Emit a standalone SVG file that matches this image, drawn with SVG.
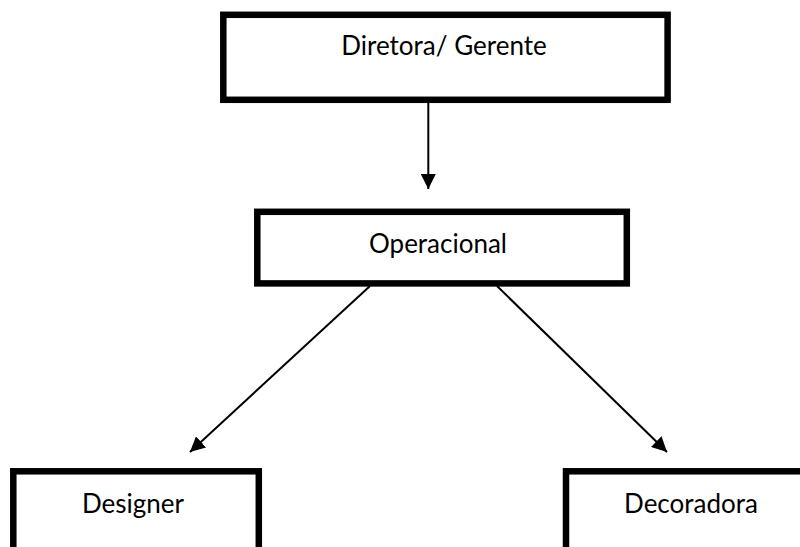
<svg xmlns="http://www.w3.org/2000/svg" width="800" height="547" viewBox="0 0 800 547">
<defs>
<style>
.box{fill:#fff;stroke:#000;stroke-width:6.5}
.lbl{font-family:Lato,"Open Sans",sans-serif;font-size:26px;fill:#000;text-anchor:middle}
.conn{stroke:#000;stroke-width:2;fill:none}
</style>
<marker id="ah" viewBox="0 0 10 10" refX="10" refY="5" markerWidth="7.5" markerHeight="7.5" markerUnits="strokeWidth" orient="auto">
<path d="M0,0 L10,5 L0,10 Z" fill="#000"/>
</marker>
</defs>
<rect width="800" height="547" fill="#fff"/>
<g id="connectors">
<line class="conn" x1="428.3" y1="103" x2="428.3" y2="189" marker-end="url(#ah)"/>
<line class="conn" x1="370" y1="286" x2="190" y2="452" marker-end="url(#ah)"/>
<line class="conn" x1="497" y1="286" x2="667" y2="452" marker-end="url(#ah)"/>
</g>
<g id="node-diretora">
<rect class="box" x="223.3" y="14.8" width="444.3" height="85"/>
<text class="lbl" x="444" y="55">Diretora/ Gerente</text>
</g>
<g id="node-operacional">
<rect class="box" x="257.3" y="211.8" width="369.5" height="71.6"/>
<text class="lbl" x="438" y="253">Operacional</text>
</g>
<g id="node-designer">
<rect class="box" x="13.3" y="471.3" width="245.5" height="80"/>
<text class="lbl" x="133" y="513">Designer</text>
</g>
<g id="node-decoradora">
<rect class="box" x="566" y="471.3" width="250" height="80"/>
<text class="lbl" x="691" y="513">Decoradora</text>
</g>
</svg>
